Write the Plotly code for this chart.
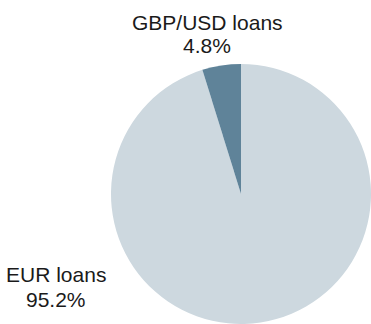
import plotly.graph_objects as go

# Loan book split by currency (percent of total)
categories = ["EUR loans", "GBP/USD loans"]
shares = [95.2, 4.8]
slice_colors = ["#cdd8df", "#5f8399"]

W, H = 371, 324

fig = go.Figure(
    go.Pie(
        labels=categories,
        values=shares,
        sort=False,
        direction="clockwise",
        rotation=0,
        textinfo="none",
        hoverinfo="label+percent",
        marker=dict(colors=slice_colors, line=dict(width=0)),
        domain=dict(x=[111 / W, 1.0], y=[0.0, (H - 64) / H]),
        showlegend=False,
    )
)

# Label positions (paper coords): each label is a name line and a value line
label_pos = {
    "GBP/USD loans": (0.558, 0.9306, 0.8596),
    "EUR loans": (0.152, 0.1528, 0.0756),
}

font = dict(family="Liberation Sans, Arial, sans-serif", size=21, color="#1a1a1a")
for name, value in zip(categories, shares):
    x, y_name, y_val = label_pos[name]
    fig.add_annotation(x=x, y=y_name, xref="paper", yref="paper", text=name,
                       showarrow=False, xanchor="center", yanchor="middle", font=font)
    fig.add_annotation(x=x, y=y_val, xref="paper", yref="paper", text=f"{value:.1f}%",
                       showarrow=False, xanchor="center", yanchor="middle", font=font)

fig.update_layout(
    width=W,
    height=H,
    margin=dict(l=0, r=0, t=0, b=0),
    paper_bgcolor="white",
    plot_bgcolor="white",
)

fig.write_html("out.html", config={"displayModeBar": False})
